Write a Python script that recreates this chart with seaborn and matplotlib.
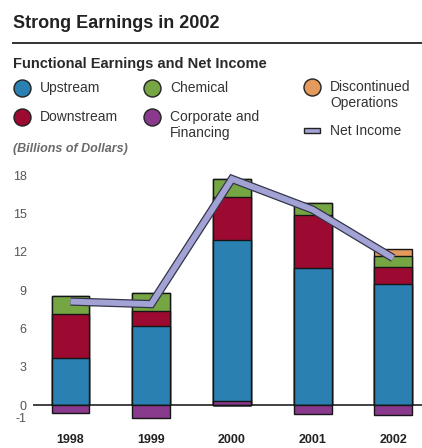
import numpy as np
import pandas as pd
import seaborn as sns
import matplotlib.pyplot as plt
from matplotlib.patches import Rectangle

# Functional earnings and net income, billions of dollars
years = ["1998", "1999", "2000", "2001", "2002"]
upstream = [3.7, 6.2, 12.6, 10.7, 9.5]
downstream = [3.4, 1.2, 3.4, 4.2, 1.3]
chemical = [1.4, 1.4, 1.4, 0.9, 0.9]
corporate = [-0.6, -1.0, 0.3, -0.7, -0.8]
discontinued = [0.0, 0.0, 0.0, 0.0, 0.5]
net_income = [8.1, 7.9, 17.7, 15.3, 11.5]

y_ticks = [-1, 0, 3, 6, 9, 12, 15, 18]

colors = {
    "Upstream": "#2a80b0",
    "Downstream": "#9c0a32",
    "Chemical": "#76a544",
    "Corporate and\nFinancing": "#8a3a8c",
    "Discontinued\nOperations": "#e39a5c",
}
line_color = "#a2a2d4"
line_edge = "#34344a"
edge = "#151515"

sns.set_theme(style="white")
plt.rcParams["font.family"] = ["Liberation Sans", "DejaVu Sans"]

fig = plt.figure(figsize=(4.22, 4.48), dpi=100)
W, H = 422, 448
ax = fig.add_axes([33 / W, 20 / H, 389 / W, 256.7 / H])

df = pd.DataFrame({
    "year": years,
    "corp_pos": np.maximum(corporate, 0),
    "corp_neg": np.minimum(corporate, 0),
    "upstream": upstream,
    "downstream": downstream,
    "chemical": chemical,
    "discontinued": discontinued,
})

# positive segments stacked bottom to top; draw cumulative totals from the top down
layers = [
    ("corp_pos", colors["Corporate and\nFinancing"]),
    ("upstream", colors["Upstream"]),
    ("downstream", colors["Downstream"]),
    ("chemical", colors["Chemical"]),
    ("discontinued", colors["Discontinued\nOperations"]),
]
cum = df[[name for name, _ in layers]].cumsum(axis=1)
bar_kw = dict(width=0.47, saturation=1, errorbar=None, edgecolor=edge,
              linewidth=1.0, ax=ax, zorder=2)
for name, col in reversed(layers):
    sns.barplot(x=df["year"], y=cum[name], color=col, **bar_kw)
sns.barplot(x=df["year"], y=df["corp_neg"],
            color=colors["Corporate and\nFinancing"], **bar_kw)

ax.axhline(0, color="#222222", lw=1.2, zorder=1.5)

# net income line with dark outline
pos = np.arange(len(years))
sns.lineplot(x=pos, y=net_income, ax=ax, color=line_edge, lw=6.0,
             solid_capstyle="butt", solid_joinstyle="miter", zorder=4)
sns.lineplot(x=pos, y=net_income, ax=ax, color=line_color, lw=4.2,
             solid_capstyle="butt", solid_joinstyle="miter", zorder=5)

ax.set_xlim(-0.465, 4.356)
ax.set_ylim(-1.8, 18.3)
ax.set_yticks(y_ticks)
ax.set_yticklabels([str(t) for t in y_ticks])
ax.set_xticks(pos)
ax.set_xticklabels(years)
ax.tick_params(axis="both", length=0)
ax.tick_params(axis="y", pad=4.5, labelsize=9, labelcolor="#555555")
ax.tick_params(axis="x", pad=4, labelsize=9, labelcolor="#222222")
for lab in ax.get_xticklabels():
    lab.set_fontweight("bold")
ax.set_xlabel("")
ax.set_ylabel("")
for s in ax.spines.values():
    s.set_visible(False)

# header and legend drawn in pixel coordinates
ov = fig.add_axes([0, 0, 1, 1], zorder=-1)
ov.set_xlim(0, W)
ov.set_ylim(H, 0)
ov.axis("off")

ov.text(13, 23, "Strong Earnings in 2002", fontsize=13, fontweight="bold",
        color="#222222", va="center", ha="left")
ov.plot([12, W], [43, 43], color="#222222", lw=1.3, solid_capstyle="butt")
ov.text(13, 64, "Functional Earnings and Net Income", fontsize=10.5,
        fontweight="bold", color="#2a2a2a", va="center", ha="left")

legend_items = [
    ("Upstream", 22, 88),
    ("Downstream", 22, 117),
    ("Chemical", 152, 88),
    ("Corporate and\nFinancing", 152, 117),
    ("Discontinued\nOperations", 312, 87),
]
for label, x, y in legend_items:
    ov.scatter([x], [y], s=150, color=colors[label], edgecolor="#222222",
               linewidth=1.0, zorder=3)
    ov.text(x + 18, y - 7, label, fontsize=10, color="#333333",
            va="top", ha="left", linespacing=1.15)

ov.add_patch(Rectangle((304, 128.5), 16, 5, facecolor=line_color,
                       edgecolor="#222222", lw=1.0))
ov.text(330, 131, "Net Income", fontsize=10, color="#333333",
        va="center", ha="left")

ov.text(13, 149, "(Billions of Dollars)", fontsize=9, fontstyle="italic",
        fontweight="bold", color="#6a6a6a", va="center", ha="left")

fig.savefig("out.png", dpi=100, facecolor="white")
